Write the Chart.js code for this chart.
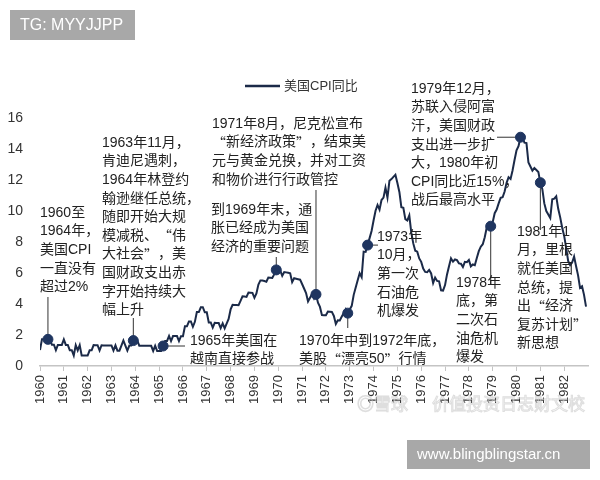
<!DOCTYPE html>
<html>
<head>
<meta charset="utf-8">
<script src="https://cdn.jsdelivr.net/npm/chart.js@4.4.1/dist/chart.umd.min.js"></script>
<style>
  html, body { margin: 0; padding: 0; background: #fff; }
  #wrap { width: 600px; height: 480px; }
</style>
</head>
<body>
<div id="wrap"><canvas id="cpiChart" width="600" height="480"></canvas></div>
<script>
// US CPI YoY (%), one row of 12 months per year
const years = [1960, 1961, 1962, 1963, 1964, 1965, 1966, 1967, 1968, 1969, 1970, 1971,
  1972, 1973, 1974, 1975, 1976, 1977, 1978, 1979, 1980, 1981, 1982];
const cpiYoY = [
  [1.03, 1.73, 1.73, 1.72, 1.72, 1.72, 1.37, 1.37, 1.02, 1.36, 1.36, 1.36],
  [1.71, 1.36, 1.36, 1.02, 1.02, 0.68, 1.35, 1.01, 1.35, 0.67, 0.67, 0.67],
  [0.67, 1.01, 1.01, 1.35, 1.34, 1.34, 1.00, 1.34, 1.33, 1.33, 1.33, 1.33],
  [1.33, 1.00, 1.33, 0.99, 0.99, 1.32, 1.65, 1.32, 1.00, 1.32, 1.32, 1.64],
  [1.64, 1.64, 1.31, 1.31, 1.31, 1.31, 1.30, 1.30, 1.30, 0.97, 1.30, 0.97],
  [0.97, 0.97, 1.29, 1.62, 1.62, 1.94, 1.61, 1.93, 1.93, 1.93, 1.61, 1.92],
  [1.92, 2.56, 2.56, 2.87, 2.87, 2.53, 2.85, 3.48, 3.48, 3.79, 3.79, 3.46],
  [3.46, 2.81, 2.81, 2.48, 2.79, 2.78, 2.77, 2.45, 2.75, 2.43, 2.74, 3.04],
  [3.65, 3.95, 3.94, 3.93, 3.92, 4.20, 4.49, 4.48, 4.46, 4.74, 4.73, 4.72],
  [4.40, 4.68, 5.25, 5.52, 5.51, 5.48, 5.44, 5.71, 5.70, 5.68, 5.93, 6.20],
  [6.18, 6.15, 5.82, 6.06, 6.04, 6.01, 5.98, 5.41, 5.66, 5.63, 5.60, 5.57],
  [5.29, 5.00, 4.71, 4.16, 4.40, 4.64, 4.36, 4.62, 4.08, 3.81, 3.28, 3.27],
  [3.27, 3.51, 3.50, 3.49, 3.23, 2.71, 2.95, 2.94, 3.19, 3.42, 3.67, 3.41],
  [3.65, 3.88, 4.59, 5.06, 5.53, 5.98, 5.73, 7.38, 7.36, 7.80, 8.25, 8.71],
  [9.39, 10.02, 10.39, 10.09, 10.71, 10.86, 11.51, 10.86, 11.95, 12.06, 12.20, 12.34],
  [11.80, 11.23, 10.25, 10.21, 9.47, 9.39, 9.72, 8.60, 7.91, 7.44, 7.38, 6.94],
  [6.72, 6.29, 6.07, 6.05, 6.20, 5.97, 5.35, 5.71, 5.49, 5.46, 4.88, 4.86],
  [5.22, 5.91, 6.44, 6.95, 6.73, 6.87, 6.83, 6.62, 6.60, 6.39, 6.72, 6.70],
  [6.84, 6.43, 6.55, 6.50, 6.97, 7.41, 7.70, 7.86, 8.31, 8.93, 8.89, 9.02],
  [9.28, 9.86, 10.09, 10.49, 10.85, 10.89, 11.26, 11.82, 12.18, 12.07, 12.61, 13.29],
  [13.91, 14.18, 14.76, 14.73, 14.41, 14.38, 13.13, 12.87, 12.60, 12.77, 12.65, 12.52],
  [11.83, 11.41, 10.49, 10.00, 9.78, 9.55, 10.76, 10.80, 10.95, 10.14, 9.59, 8.92],
  [8.39, 7.62, 6.78, 6.51, 6.68, 7.06, 6.44, 5.85, 5.04, 5.14, 4.59, 3.83]
];
const yTicks = [0, 2, 4, 6, 8, 10, 12, 14, 16];
const seriesName = '美国CPI同比';

// marked events: year and month index (0 = Jan)
const eventYears = [1960, 1963, 1965, 1969, 1971, 1972, 1973, 1978, 1980, 1981];
const eventMonths = [4, 11, 2, 11, 7, 11, 9, 11, 2, 0];

// text blocks, one per event (same order), plus where the leader line ends
const notes = [
  { lines: ['1960至', '1964年，', '美国CPI', '一直没有', '超过2%'], x: 40, y: 213, to: { y: 297 } },
  { lines: ['1963年11月，', '肯迪尼遇刺，', '1964年林登约', '翰逊继任总统，', '随即开始大规', '模减税、“伟', '大社会”，美', '国财政支出赤', '字开始持续大', '幅上升'], x: 102, y: 143, to: { y: 318 } },
  { lines: ['1965年美国在', '越南直接参战'], x: 190, y: 341, to: { x: 185 } },
  { lines: ['到1969年末，通', '胀已经成为美国', '经济的重要问题'], x: 211, y: 210, to: { y: 257 } },
  { lines: ['1971年8月，尼克松宣布', '“新经济政策”，结束美', '元与黄金兑换，并对工资', '和物价进行行政管控'], x: 212, y: 124, to: { y: 190 } },
  { lines: ['1970年中到1972年底，', '美股“漂亮50”行情'], x: 299, y: 341, to: { y: 328 } },
  { lines: ['1973年', '10月，', '第一次', '石油危', '机爆发'], x: 377, y: 237, to: { x: 378 } },
  { lines: ['1978年', '底，第', '二次石', '油危机', '爆发'], x: 456, y: 283, to: { y: 285 } },
  { lines: ['1979年12月，', '苏联入侵阿富', '汗，美国财政', '支出进一步扩', '大，1980年初', 'CPI同比近15%，', '战后最高水平'], x: 411, y: 89, to: { x: 497 } },
  { lines: ['1981年1', '月，里根', '就任美国', '总统，提', '出“经济', '复苏计划”', '新思想'], x: 517, y: 232, to: { y: 230 } }
];

const FONT = '"Liberation Sans", Arial, "Noto Sans CJK SC", sans-serif';
const CJK = '"Noto Sans CJK SC", sans-serif';
const lineColor = '#1b2a48';

var points = [];
years.forEach(function (yr, i) {
  cpiYoY[i].forEach(function (v, m) {
    points.push({ x: yr + m / 12, y: v });
  });
});

var eventPoints = eventYears.map(function (yr, i) {
  return { x: yr + eventMonths[i] / 12, y: cpiYoY[years.indexOf(yr)][eventMonths[i]] };
});

// curly quotes drawn with the CJK font so they take a full-width cell
function drawMixed(ctx, text, x, y, size) {
  var run = '', cx = x;
  function flush(font) {
    if (!run) return;
    ctx.font = size + 'px ' + font;
    ctx.fillText(run, cx, y);
    cx += ctx.measureText(run).width;
    run = '';
  }
  for (var i = 0; i < text.length; i++) {
    var c = text[i];
    if (c === '“' || c === '”') {
      flush(FONT);
      run = c;
      flush(CJK);
    } else {
      run += c;
    }
  }
  flush(FONT);
}

const notesPlugin = {
  id: 'notes',
  beforeDatasetsDraw: function (chart) {
    var ctx = chart.ctx;
    var xs = chart.scales.x, ys = chart.scales.y;
    ctx.save();
    ctx.strokeStyle = '#333';
    ctx.lineWidth = 1;
    notes.forEach(function (n, i) {
      var px = xs.getPixelForValue(eventPoints[i].x);
      var py = ys.getPixelForValue(eventPoints[i].y);
      ctx.beginPath();
      ctx.moveTo(px, py);
      if (n.to.y !== undefined) ctx.lineTo(px, n.to.y);
      else ctx.lineTo(n.to.x, py);
      ctx.stroke();
    });
    ctx.restore();
  },
  afterDraw: function (chart) {
    var ctx = chart.ctx;
    ctx.save();
    // legend
    ctx.strokeStyle = lineColor;
    ctx.lineWidth = 2.5;
    ctx.beginPath();
    ctx.moveTo(245, 86);
    ctx.lineTo(280, 86);
    ctx.stroke();
    ctx.fillStyle = '#333';
    ctx.font = '13px ' + FONT;
    ctx.textBaseline = 'middle';
    ctx.textAlign = 'left';
    ctx.fillText(seriesName, 284, 86);

    // annotations
    ctx.fillStyle = '#222';
    notes.forEach(function (n) {
      n.lines.forEach(function (t, k) {
        drawMixed(ctx, t, n.x, n.y + k * 18.6, 14);
      });
    });

    // faint site mark over the x labels
    ctx.font = '17px ' + CJK;
    ctx.lineWidth = 1;
    ctx.strokeStyle = 'rgba(160,160,160,0.35)';
    ctx.fillStyle = 'rgba(255,255,255,0.45)';
    ctx.fillText('◎雪球', 357, 404);
    ctx.strokeText('◎雪球', 357, 404);
    ctx.fillText('价值投资日志财文校', 432, 404);
    ctx.strokeText('价值投资日志财文校', 432, 404);

    // watermark boxes
    ctx.fillStyle = '#a8a8a8';
    ctx.fillRect(10, 10, 125, 30);
    ctx.fillRect(407, 440, 183, 29);
    ctx.fillStyle = '#fff';
    ctx.font = '16px ' + FONT;
    ctx.fillText('TG: MYYJJPP', 20, 26);
    ctx.font = '15px ' + FONT;
    ctx.fillText('www.blingblingstar.cn', 417, 455);
    ctx.restore();
  }
};

var ctx = document.getElementById('cpiChart').getContext('2d');
var cpiChart = new Chart(ctx, {
  type: 'line',
  data: {
    datasets: [
      {
        label: 'events',
        data: eventPoints,
        showLine: false,
        pointRadius: 5,
        pointBackgroundColor: '#1f3560',
        pointBorderColor: '#1f3560',
        order: 0
      },
      {
        label: seriesName,
        data: points,
        borderColor: lineColor,
        borderWidth: 2,
        pointRadius: 0,
        tension: 0,
        fill: false,
        order: 1
      }
    ]
  },
  options: {
    responsive: false,
    animation: false,
    layout: { padding: { top: 118, right: 12, left: 0, bottom: 0 } },
    plugins: {
      legend: { display: false },
      tooltip: { enabled: false }
    },
    scales: {
      x: {
        type: 'linear',
        min: 1960,
        max: 1983,
        afterBuildTicks: function (scale) {
          scale.ticks = years.map(function (y) { return { value: y }; });
        },
        afterFit: function (scale) { scale.height = 114; },
        ticks: {
          autoSkip: false,
          minRotation: 90,
          maxRotation: 90,
          padding: 4,
          color: '#333',
          font: { family: FONT, size: 13 },
          callback: function (v) { return String(v); }
        },
        grid: { drawOnChartArea: false, drawTicks: true, tickLength: 5, color: '#c4c4c4' },
        border: { display: true, color: '#c4c4c4', width: 1.5 }
      },
      y: {
        min: 0,
        max: 16,
        afterBuildTicks: function (scale) {
          scale.ticks = yTicks.map(function (v) { return { value: v }; });
        },
        afterFit: function (scale) { scale.width = 40; },
        ticks: {
          padding: 17,
          color: '#333',
          font: { family: FONT, size: 14 }
        },
        grid: { display: false, drawTicks: false },
        border: { display: false }
      }
    }
  },
  plugins: [notesPlugin]
});
</script>
</body>
</html>
